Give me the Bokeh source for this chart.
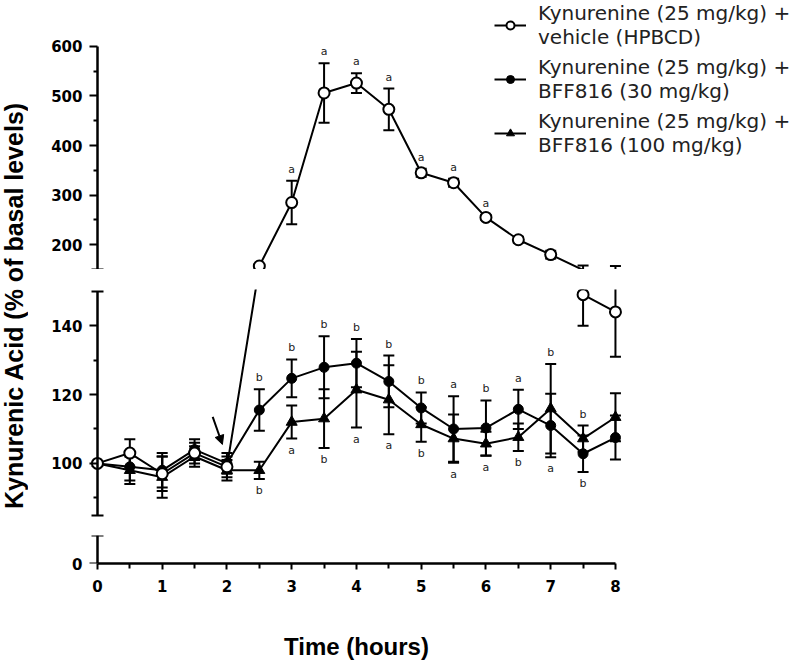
import numpy as np
from bokeh.plotting import figure
from bokeh.layouts import row, column
from bokeh.models import (ColumnDataSource, FixedTicker, LinearAxis, Range1d, Legend,
                          LegendItem, Arrow, NormalHead, Label, CDSView, BooleanFilter)
from bokeh.core.properties import value
from bokeh.embed import file_html
from bokeh.resources import INLINE

# ---------------- data ----------------
time_h = [0, 0.5, 1, 1.5, 2, 2.5, 3, 3.5, 4, 4.5, 5, 5.5, 6, 6.5, 7, 7.5, 8]

vehicle_mean = [100, 103, 97, 103, 99, 157, 285, 506, 526, 473, 345, 325, 255, 210, 180, 149, 144]
vehicle_sem = [0, 4, 5, 3, 3, 4, 44, 60, 20, 42, 8, 8, 5, 6, 8, 9, 13]

bff30_mean = [100, 99, 98, 104, 100, 115.5, 124.7, 127.9, 129.1, 123.8, 116.1, 110, 110.3, 115.7, 111, 102.8, 107.5]
bff30_sem = [0, 4, 5, 3, 3, 6, 5.5, 9, 7, 7.5, 4.5, 9.5, 8, 5.7, 9.2, 5.3, 6.4]

bff100_mean = [100, 98, 96, 102, 98, 98, 112, 113, 121.4, 118.5, 111.3, 107.2, 105.7, 107.6, 115.9, 107.2, 113.4]
bff100_sem = [0, 4, 6, 3, 3, 2.5, 4.8, 8.5, 11, 10, 5, 7, 3.5, 4, 13, 3.8, 7]

vehicle_letters = ["", "", "", "", "", "", "a", "a", "a", "a", "a", "a", "a", "", "", "", ""]
bff_top_letters = ["", "", "", "", "", "b", "b", "b", "b", "b", "b", "a", "b", "a", "b", "b", ""]
bff_bottom_letters = ["", "", "", "", "", "b", "a", "b", "a", "a", "b", "a", "a", "b", "a", "b", ""]

legend_labels = ["Kynurenine (25 mg/kg) +\nvehicle (HPBCD)",
                 "Kynurenine (25 mg/kg) +\nBFF816 (30 mg/kg)",
                 "Kynurenine (25 mg/kg) +\nBFF816 (100 mg/kg)"]

x_ticks = [0, 1, 2, 3, 4, 5, 6, 7, 8]
x_minor = [0.5, 1.5, 2.5, 3.5, 4.5, 5.5, 6.5, 7.5]
top_ticks = [200, 300, 400, 500, 600]
top_minor = [250, 350, 450, 550]
mid_ticks = [100, 120, 140]
mid_minor = [90, 110, 130]
bot_ticks = [0]
axis_break = 150
x_bounds = (0, 8)

injection_arrow = dict(x_start=1.78, y_start=113.5, x_end=1.93, y_end=105.5)

# ---------------- helpers ----------------
def mk_src(mean, sem):
    m = np.array(mean, dtype=float)
    s = np.array(sem, dtype=float)
    return ColumnDataSource(dict(x=time_h, y=m, up=m + s, lo=m - s))

src_v = mk_src(vehicle_mean, vehicle_sem)
src_30 = mk_src(bff30_mean, bff30_sem)
src_100 = mk_src(bff100_mean, bff100_sem)

up_all = np.maximum(src_30.data["up"], src_100.data["up"])
lo_all = np.minimum(src_30.data["lo"], src_100.data["lo"])
src_lab_top = ColumnDataSource(dict(x=time_h, y=up_all, t=bff_top_letters))
src_lab_bot = ColumnDataSource(dict(x=time_h, y=lo_all, t=bff_bottom_letters))
src_lab_v = ColumnDataSource(dict(x=time_h, y=src_v.data["up"], t=vehicle_letters))

PX_PER_H = 64.75
TITLE_W = 28
FIG_W = 768
BL = 56
X0 = -0.2
xr = Range1d(X0, X0 + (FIG_W - BL) / PX_PER_H)
TICK_FONT = "DejaVu Sans"

TOP_H, MID_H, BOT_H, XT_H = 269, 257, 77, 61
TOTAL_H = TOP_H + MID_H + BOT_H + XT_H


def make_panel(height, y0, y1, bounds, ticks, minor, caps, bt, bb):
    p = figure(width=FIG_W, height=height, x_range=xr, y_range=Range1d(y0, y1),
               x_axis_type=None, y_axis_type=None, output_backend="svg",
               toolbar_location=None, min_border_left=BL, min_border_right=0,
               min_border_top=bt, min_border_bottom=bb)
    p.outline_line_color = None
    p.background_fill_color = "white"
    # axis line and ticks located at x = 0
    ax = LinearAxis(fixed_location=0, bounds=bounds,
                    ticker=FixedTicker(ticks=ticks, minor_ticks=minor))
    ax.axis_line_width = 2.5
    ax.major_tick_line_width = 2
    ax.minor_tick_line_width = 2
    ax.major_tick_out = 8
    ax.major_tick_in = 0
    ax.minor_tick_out = 4
    ax.minor_tick_in = 0
    ax.major_label_text_font_size = "0px"
    ax.major_label_overrides = {v: "" for v in ticks}
    p.add_layout(ax, "left")
    # tick labels in the side panel
    lab = LinearAxis(ticker=FixedTicker(ticks=ticks, minor_ticks=[]))
    lab.axis_line_color = None
    lab.major_tick_line_color = None
    lab.major_tick_out = 0
    lab.major_tick_in = 0
    lab.major_label_standoff = 2
    lab.major_label_text_font = TICK_FONT
    lab.major_label_text_font_style = "bold"
    lab.major_label_text_font_size = "15px"
    lab.major_label_text_color = "black"
    p.add_layout(lab, "left")
    # break caps at the ends of the axis segment
    cap = LinearAxis(fixed_location=0, ticker=FixedTicker(ticks=caps, minor_ticks=[]))
    cap.axis_line_color = None
    cap.major_tick_line_width = 2
    cap.major_tick_in = 6
    cap.major_tick_out = 6
    cap.major_label_text_font_size = "0px"
    cap.major_label_overrides = {v: "" for v in caps}
    p.add_layout(cap, "left")
    return p


def draw_series(p, in_panel):
    for src in (src_v, src_30, src_100):
        p.segment(x0="x", y0="lo", x1="x", y1="up", source=src, line_color="black", line_width=2)
        p.scatter(x="x", y="up", source=src, marker="dash", size=11, line_color="black", line_width=2)
        p.scatter(x="x", y="lo", source=src, marker="dash", size=11, line_color="black", line_width=2)
    l100 = p.line(x="x", y="y", source=src_100, line_color="black", line_width=2)
    l30 = p.line(x="x", y="y", source=src_30, line_color="black", line_width=2)
    lv = p.line(x="x", y="y", source=src_v, line_color="black", line_width=2)

    m100 = p.scatter(x="x", y="y", source=src_100, marker="triangle",
                     size=11, fill_color="black", line_color="black")
    m30 = p.scatter(x="x", y="y", source=src_30, marker="circle",
                    size=10, fill_color="black", line_color="black")
    # the vehicle points are drawn in the axis segment their value belongs to
    v_view = CDSView(filter=BooleanFilter([bool(in_panel(v)) for v in src_v.data["y"]]))
    mv = p.scatter(x="x", y="y", source=src_v, view=v_view, marker="circle", size=11,
                   fill_color="white", line_color="black", line_width=2)
    return [(lv, mv), (l30, m30), (l100, m100)]


tf = dict(text_font=value("DejaVu Sans"), text_font_size=value("11px"),
          text_align="center", text_color="#222222")

# top panel: 150..600 (frame extends up to the page top for the legend)
p_top = make_panel(TOP_H, axis_break, 600 + 46 / 0.4975, (150, 600),
                   top_ticks, top_minor, [150], 0, 0)
r_top = draw_series(p_top, lambda v: v >= axis_break)
p_top.text(x="x", y="y", text="t", source=src_lab_v, text_baseline="bottom", y_offset=-5, **tf)

# middle panel: 85..150
p_mid = make_panel(MID_H, 84, 150.5, (85, 150), mid_ticks, mid_minor, [85, 150], 20, 8)
draw_series(p_mid, lambda v: v < axis_break)
p_mid.text(x="x", y="y", text="t", source=src_lab_top, text_baseline="bottom", y_offset=-5, **tf)
p_mid.text(x="x", y="y", text="t", source=src_lab_bot, text_baseline="top", y_offset=5, **tf)
p_mid.add_layout(Arrow(end=NormalHead(size=9, fill_color="black", line_color="black"),
                       line_width=2, line_color="black", **injection_arrow))

# bottom panel: 0..8 with x axis
p_bot = make_panel(BOT_H, 0, 8, (0, 8), bot_ticks, [], [8], 9, BOT_H - 9 - 28)
xa = LinearAxis(bounds=x_bounds, ticker=FixedTicker(ticks=x_ticks, minor_ticks=x_minor))
xa.axis_line_width = 2.5
xa.major_tick_line_width = 2
xa.minor_tick_line_width = 2
xa.major_tick_out = 6
xa.major_tick_in = 0
xa.minor_tick_out = 5
xa.minor_tick_in = 0
xa.major_label_standoff = 10
xa.major_label_text_font = TICK_FONT
xa.major_label_text_font_style = "bold"
xa.major_label_text_font_size = "15px"
xa.major_label_text_color = "black"
p_bot.add_layout(xa, "below")

# x axis title, centred under the axis (0..8)
p_xt = figure(width=FIG_W, height=XT_H, x_range=xr, y_range=Range1d(0, XT_H),
              x_axis_type=None, y_axis_type=None, output_backend="svg",
              toolbar_location=None, min_border_left=BL, min_border_right=0,
              min_border_top=0, min_border_bottom=0)
p_xt.outline_line_color = None
p_xt.add_layout(Label(x=sum(x_bounds) / 2, y=18, text="Time (hours)",
                      text_align="center", text_baseline="middle",
                      text_font="Liberation Sans", text_font_style="bold",
                      text_font_size="24px", text_color="black"))

# legend
items = [LegendItem(label=lab, renderers=list(r)) for lab, r in zip(legend_labels, r_top)]
legend = Legend(items=items, location=(410, 112), glyph_width=32, glyph_height=20,
                label_standoff=12, spacing=6, padding=0, margin=0,
                border_line_color=None, background_fill_alpha=0,
                label_text_font="DejaVu Sans", label_text_font_size="20px",
                label_text_line_height=1.3, label_text_color="#222222")
p_top.add_layout(legend)

# y axis title in its own narrow canvas
p_title = figure(width=TITLE_W, height=TOTAL_H, x_range=Range1d(0, TITLE_W),
                 y_range=Range1d(0, TOTAL_H), x_axis_type=None, y_axis_type=None,
                 output_backend="svg", toolbar_location=None, min_border=0)
p_title.outline_line_color = None
p_title.add_layout(Label(x=13, y=TOTAL_H - 305, text="Kynurenic Acid (% of basal levels)",
                         angle=np.pi / 2, text_align="center", text_baseline="middle",
                         text_font="Liberation Sans", text_font_style="bold",
                         text_font_size="25px", text_color="black"))

layout = row(p_title, column(p_top, p_mid, p_bot, p_xt))
open("out.html", "w").write(file_html(layout, INLINE))
